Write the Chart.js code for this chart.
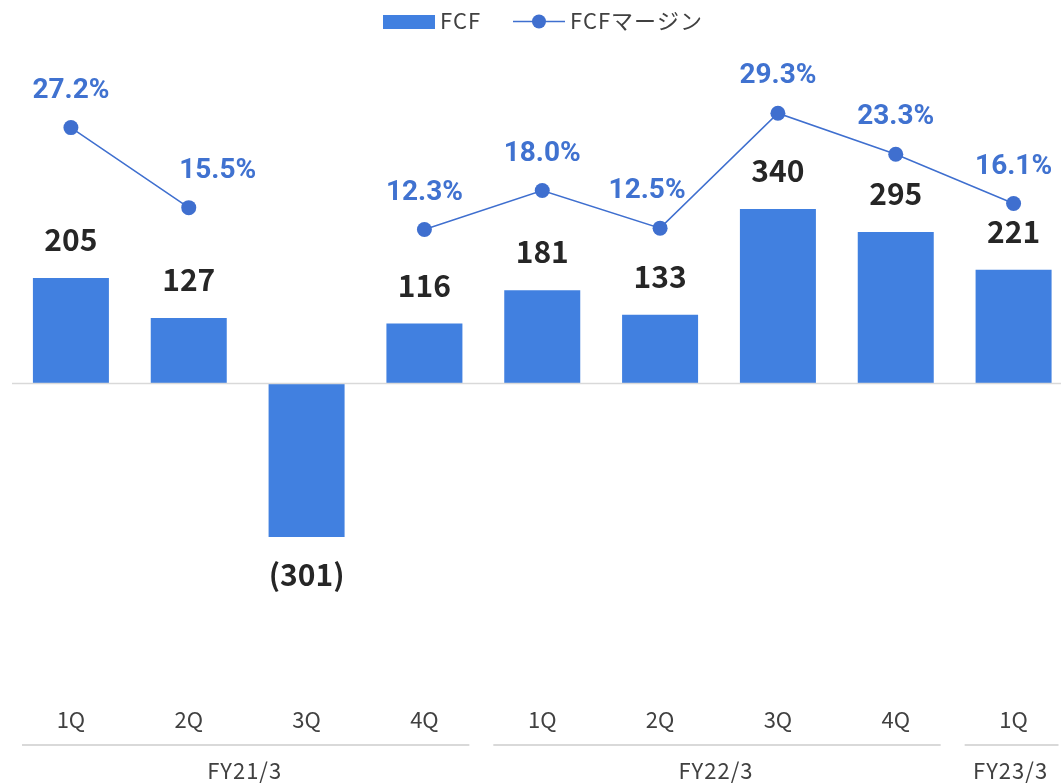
<!DOCTYPE html>
<html><head><meta charset="utf-8">
<script src="https://cdn.jsdelivr.net/npm/chart.js@4/dist/chart.umd.min.js"></script>
<style>html,body{margin:0;padding:0;overflow:hidden;background:#fff;width:1061px;height:784px}#w{width:1080px;height:784px}</style>
</head><body><div id="w"><canvas id="c" width="1080" height="784"></canvas></div>
<script>
const quarters = ['1Q','2Q','3Q','4Q','1Q','2Q','3Q','4Q','1Q'];
const fiscalYears = ['FY21/3','FY22/3','FY23/3'];
const fiscalYearSpans = [[0,3],[4,7],[8,8]];
const fcf = [205,127,-301,116,181,133,340,295,221];
const fcfMargin = [27.2,15.5,null,12.3,18.0,12.5,29.3,23.3,16.1];
const seriesNames = ['FCF','FCFマージン'];

const BAR = '#4180e0', LINE = '#3f6fcf', LBL = '#4072d0';
const FONT = '"Noto Sans CJK JP","Noto Sans",sans-serif';
const marginLabelNudgeX = {1: 29, 5: -13};

const plug = {
  id: 'custom',
  afterDatasetsDraw(chart) {
    const ctx = chart.ctx, x = chart.scales.x, y = chart.scales.y, ca = chart.chartArea;
    ctx.save();
    const y0 = Math.round(y.getPixelForValue(0)) + 0.5;
    ctx.strokeStyle = '#d9d9d9'; ctx.lineWidth = 1.5;
    ctx.beginPath(); ctx.moveTo(ca.left, y0); ctx.lineTo(ca.right, y0); ctx.stroke();
    const bm = chart.getDatasetMeta(1);
    ctx.font = 'bold 30px ' + FONT; ctx.fillStyle = '#262626'; ctx.textAlign = 'center';
    bm.data.forEach((el, i) => {
      const v = fcf[i];
      if (v >= 0) { ctx.textBaseline = 'alphabetic'; ctx.fillText(String(v), el.x, el.y - 27); }
      else { ctx.textBaseline = 'top'; ctx.fillText('(' + Math.abs(v) + ')', el.x, el.y + 23); }
    });
    const lm = chart.getDatasetMeta(0);
    ctx.font = 'bold 28px Roboto, ' + FONT; ctx.fillStyle = LBL; ctx.textBaseline = 'alphabetic';
    lm.data.forEach((el, i) => {
      const v = fcfMargin[i]; if (v === null) return;
      ctx.fillText(v.toFixed(1) + '%', el.x + (marginLabelNudgeX[i] || 0), el.y - 30);
    });
    const cw = (ca.right - ca.left) / quarters.length;
    ctx.font = '22px ' + FONT; ctx.fillStyle = '#404040'; ctx.textBaseline = 'middle';
    ctx.letterSpacing = '1px';
    fiscalYearSpans.forEach((s, g) => {
      const l = x.getPixelForValue(s[0]) - cw / 2 + 10;
      const r = x.getPixelForValue(s[1]) + cw / 2 - 14;
      ctx.strokeStyle = '#d9d9d9'; ctx.lineWidth = 2;
      ctx.beginPath(); ctx.moveTo(l, 745); ctx.lineTo(r, 745); ctx.stroke();
      const cx = (x.getPixelForValue(s[0]) + x.getPixelForValue(s[1])) / 2;
      ctx.fillText(fiscalYears[g], cx - 3, 771);
    });
    ctx.fillStyle = BAR; ctx.fillRect(383, 15, 52, 14);
    ctx.fillStyle = '#404040'; ctx.textAlign = 'left'; ctx.font = '22px ' + FONT;
    ctx.fillText(seriesNames[0], 440, 21);
    ctx.strokeStyle = LINE; ctx.lineWidth = 1.5;
    ctx.beginPath(); ctx.moveTo(513, 21.5); ctx.lineTo(565, 21.5); ctx.stroke();
    ctx.fillStyle = LINE; ctx.beginPath(); ctx.arc(539, 21.5, 7, 0, Math.PI * 2); ctx.fill();
    ctx.fillStyle = '#404040'; ctx.fillText(seriesNames[1], 570, 21);
    ctx.restore();
  }
};

new Chart(document.getElementById('c'), {
  data: {
    labels: quarters,
    datasets: [
      { type: 'line', label: seriesNames[1], data: fcfMargin, yAxisID: 'y2', borderColor: LINE, borderWidth: 1.5,
        pointRadius: 7.5, pointBackgroundColor: LINE, pointBorderColor: LINE, pointBorderWidth: 0, spanGaps: false, tension: 0, order: 0 },
      { type: 'bar', label: seriesNames[0], data: fcf, yAxisID: 'y', backgroundColor: BAR, borderWidth: 0,
        categoryPercentage: 0.645, barPercentage: 1, order: 1 }
    ]
  },
  options: {
    responsive: false, animation: false,
    layout: { padding: { left: 12, right: 6, top: 40, bottom: 0 } },
    plugins: { legend: { display: false }, tooltip: { enabled: false } },
    scales: {
      x: { grid: { display: false, drawTicks: false }, border: { display: false },
           ticks: { font: { size: 22, family: FONT }, color: '#404040', padding: 16, maxRotation: 0 },
           afterFit(s) { s.height = 94; } },
      y: { display: false, min: -600, max: 670 },
      y2: { display: false, min: -55, max: 40 }
    }
  },
  plugins: [plug]
});
</script></body></html>
